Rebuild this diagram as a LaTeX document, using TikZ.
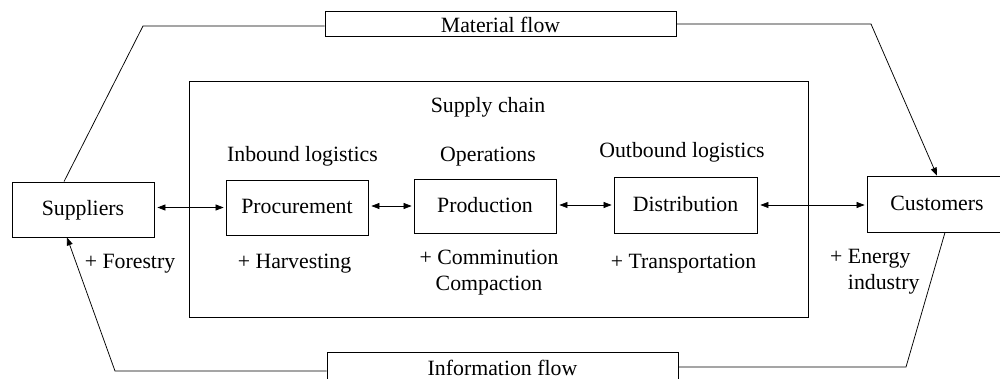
\documentclass[tikz,border=0pt]{standalone}
\usepackage{fontspec}
\setmainfont{Liberation Serif}
\usetikzlibrary{arrows.meta}
\begin{document}
\begin{tikzpicture}[x=1pt, y=-1pt,
  font=\fontsize{21.8}{26}\selectfont,
  box/.style={draw, line width=0.8pt, inner sep=0pt, text height=16pt, text depth=3pt},
  frame/.style={draw, line width=0.8pt, inner sep=0pt},
  lbl/.style={inner sep=0pt, anchor=base},
  wire/.style={line width=0.75pt},
  tipend/.style={wire, -{Triangle[length=8pt,width=6pt]}},
  link/.style={wire, {Triangle[length=8pt,width=6pt]}-{Triangle[length=8pt,width=6pt]}, shorten <=3pt, shorten >=2pt}]
\useasboundingbox (0,0) rectangle (1000,379);

% supply chain frame
\node[frame, minimum width=619pt, minimum height=236pt] (sc) at (498.5,199) {};
\node[lbl] (sctitle) at (488,113) {Supply chain};
\node[lbl] (inb) at (302.5,162) {Inbound logistics};
\node[lbl] (ops) at (488,162) {Operations};
\node[lbl] (outb) at (682,158) {Outbound logistics};

% chain members
\node[box, minimum width=142pt, minimum height=55pt] (sup) at (83,209.5) {Suppliers};
\node[box, minimum width=142pt, minimum height=55pt] (proc) at (297,207.5) {Procurement};
\node[box, minimum width=142pt, minimum height=54pt] (prod) at (485,206) {Production};
\node[box, minimum width=143pt, minimum height=56pt] (dist) at (685.5,205) {Distribution};
\node[box, minimum width=140pt, minimum height=56pt] (cus) at (937,204) {Customers};

% flow boxes
\node[frame, minimum width=351pt, minimum height=25pt, text height=20pt, text depth=2pt] (mat) at (500.5,23.5) {Material flow};
\node[frame, minimum width=351pt, minimum height=33pt, text height=16pt, text depth=3pt] (info) at (502.5,368.5) {Information flow};

% activities (two-line labels are placed by their last baseline)
\node[lbl] (forest) at (130,268) {+ Forestry};
\node[lbl] (harv) at (294.5,268) {+ Harvesting};
\node[lbl, align=center] (comm) at (489,290) {+ Comminution\\Compaction};
\node[lbl] (trans) at (683.5,268) {+ Transportation};
\node[lbl, align=left, anchor=base west] (energy) at (830,289) {+ Energy\\\phantom{+ }industry};

% links between members
\draw[link] (sup.east |- proc.west) -- (proc.west);
\draw[link] (proc.east |- prod.west) -- (prod.west);
\draw[link] (prod.east |- dist.west) -- (dist.west);
\draw[link] (dist.east) -- (cus.west |- dist.east);

% material flow
\coordinate (m1) at (143,26);
\coordinate (m2) at (871,24);
\draw[wire] (mat.west |- m1) -- (m1) -- ([xshift=-19pt]sup.north);
\draw[tipend] (mat.east |- m2) -- (m2) -- (cus.north);

% information flow
\coordinate (i1) at (115,371);
\coordinate (i2) at (906,367);
\draw[tipend] (info.west |- i1) -- (i1) -- ([xshift=-16pt]sup.south);
\draw[wire] (info.east |- i2) -- (i2) -- ([xshift=8pt]cus.south);
\end{tikzpicture}
\end{document}
